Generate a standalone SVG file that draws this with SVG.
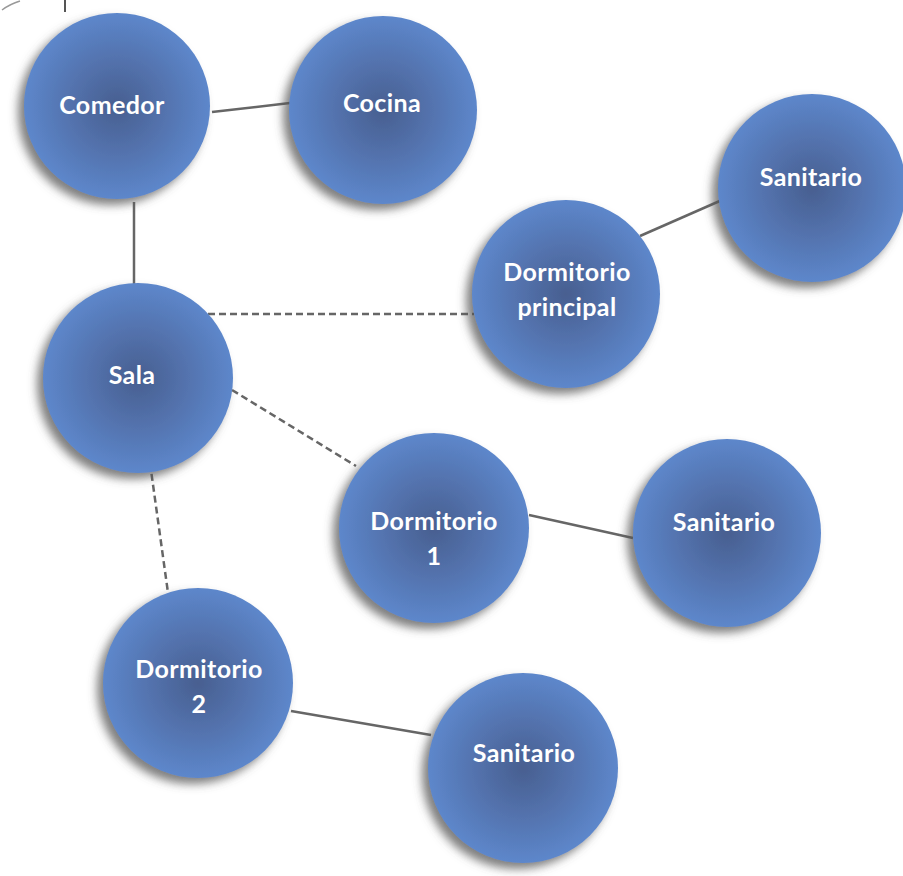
<svg xmlns="http://www.w3.org/2000/svg" width="903" height="876" viewBox="0 0 903 876">
<defs>
<radialGradient id="g" cx="50%" cy="50%" r="50%">
<stop offset="0" stop-color="#485f90"/>
<stop offset="0.5" stop-color="#5372ad"/>
<stop offset="1" stop-color="#5d87cb"/>
</radialGradient>
<filter id="sh" x="-30%" y="-30%" width="160%" height="160%">
<feDropShadow dx="-6" dy="6" stdDeviation="5" flood-color="#555" flood-opacity="0.75"/>
</filter>
</defs>
<style>
.n{fill:url(#g);filter:url(#sh)}
.t{font-family:Lato,"Open Sans","Liberation Sans",sans-serif;font-weight:bold;font-size:25px;letter-spacing:0.4px;fill:#fff;text-anchor:middle}
.c{stroke:#666;stroke-width:2.5;fill:none}
.d{stroke:#666;stroke-width:2.5;fill:none;stroke-dasharray:7 4}
</style>
<rect width="903" height="876" fill="#fff"/>
<g id="artifact">
<line x1="65" y1="0" x2="65" y2="12" stroke="#555" stroke-width="2"/>
<path d="M2 10 Q10 4 20 1" stroke="#999" stroke-width="1.5" fill="none"/>
</g>
<g id="connectors">
<line class="c" x1="212" y1="112" x2="290" y2="103"/>
<line class="c" x1="134" y1="202" x2="134" y2="285"/>
<line class="d" x1="208" y1="314" x2="474" y2="314"/>
<line class="d" x1="232" y1="390" x2="356" y2="466"/>
<line class="d" x1="150" y1="463" x2="169" y2="600"/>
<line class="c" x1="640" y1="236" x2="722" y2="200"/>
<line class="c" x1="529" y1="515" x2="633" y2="538"/>
<line class="c" x1="291" y1="711" x2="431" y2="735"/>
</g>
<g id="comedor"><circle class="n" cx="117" cy="106" r="93"/><text class="t" x="112" y="114">Comedor</text></g>
<g id="cocina"><circle class="n" cx="383" cy="110" r="94"/><text class="t" x="382" y="112">Cocina</text></g>
<g id="sanitario1"><circle class="n" cx="812" cy="188" r="94"/><text class="t" x="811" y="186">Sanitario</text></g>
<g id="dormitorio-principal"><circle class="n" cx="566" cy="294" r="94"/><text class="t" x="567" y="281">Dormitorio</text><text class="t" x="567" y="316">principal</text></g>
<g id="sala"><circle class="n" cx="138" cy="378" r="95"/><text class="t" x="132" y="384">Sala</text></g>
<g id="dormitorio1"><circle class="n" cx="434" cy="528" r="95"/><text class="t" x="434" y="530">Dormitorio</text><text class="t" x="434" y="565">1</text></g>
<g id="sanitario2"><circle class="n" cx="727" cy="533" r="94"/><text class="t" x="724" y="531">Sanitario</text></g>
<g id="dormitorio2"><circle class="n" cx="198" cy="683" r="95"/><text class="t" x="199" y="678">Dormitorio</text><text class="t" x="199" y="713">2</text></g>
<g id="sanitario3"><circle class="n" cx="523" cy="768" r="95"/><text class="t" x="524" y="762">Sanitario</text></g>
</svg>
